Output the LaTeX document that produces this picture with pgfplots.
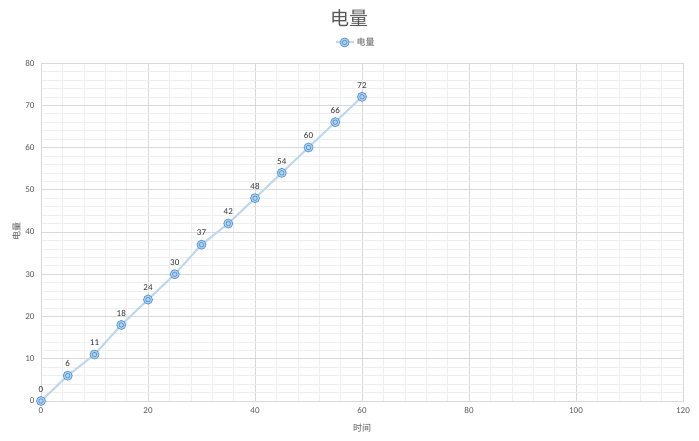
\documentclass[border=0pt]{standalone}
\usepackage{pgfplots}
\pgfplotsset{compat=1.18}
\usepackage{fontspec}
\setmainfont{Carlito}
\newfontfamily\cjk{Noto Sans CJK SC}

\definecolor{linec}{HTML}{BDD7EE}
\definecolor{markc}{HTML}{5B9BD5}
\definecolor{markf}{HTML}{B4D2EE}
\definecolor{txt}{HTML}{595959}
\definecolor{gmaj}{HTML}{D9D9D9}
\definecolor{gmin}{HTML}{EFEFEF}

\pgfdeclareplotmark{bull}{%
  \pgfpathcircle{\pgfpointorigin}{\pgfplotmarksize}\pgfusepathqfillstroke
  \pgfpathcircle{\pgfpointorigin}{0.5\pgfplotmarksize}\pgfusepathqstroke}

\begin{document}
\begin{tikzpicture}
\path[use as bounding box] (0,0) rectangle (699pt,441pt);
\begin{axis}[
    at={(41pt,40pt)}, anchor=south west,
    scale only axis, width=642pt, height=338pt,
    xmin=0, xmax=120, ymin=0, ymax=80,
    xtick={0,20,...,120}, ytick={0,10,...,80},
    minor x tick num=4, minor y tick num=4,
    grid=both,
    major grid style={gmaj, line width=0.8pt},
    minor grid style={gmin, line width=0.6pt},
    axis line style={gmaj},
    tick style={draw=none},
    ticklabel style={font=\fontsize{9}{10}\selectfont, text=txt},
    xticklabel style={yshift=-3pt},
    yticklabel style={xshift=-3pt},
    /pgf/number format/assume math mode=true,
    xlabel={\cjk 时间}, ylabel={\cjk 电量},
    label style={font=\fontsize{9}{10}\selectfont, text=txt},
    xlabel style={yshift=-3pt},
    ylabel style={yshift=-2pt},
    title={\cjk 电量},
    title style={font=\fontsize{19}{22}\selectfont, text=txt, at={(0.48,1)}, yshift=27pt},
    legend style={at={(0.49,1.035)}, anchor=south, draw=none, fill=none,
        font=\fontsize{9}{10}\selectfont\cjk, text=txt},
    legend image code/.code={%
        \draw[#1] (0pt,0pt) -- (18pt,0pt);
        \draw[#1, mark repeat=2, mark phase=2] plot coordinates {(0pt,0pt) (9pt,0pt) (18pt,0pt)};},
]
\addplot[color=linec, line width=2pt,
    mark=bull, mark size=4.5pt,
    mark options={draw=markc, fill=markf, line width=0.8pt},
    nodes near coords, point meta=explicit symbolic,
    nodes near coords style={font=\fontsize{9}{10}\selectfont, text=black!80, anchor=south, yshift=5pt}]
  table[meta=label] {
x y label
0 0 0
5 6 6
10 11 11
15 18 18
20 24 24
25 30 30
30 37 37
35 42 42
40 48 48
45 54 54
50 60 60
55 66 66
60 72 72
};
\addlegendentry{电量}
\end{axis}
\end{tikzpicture}
\end{document}
